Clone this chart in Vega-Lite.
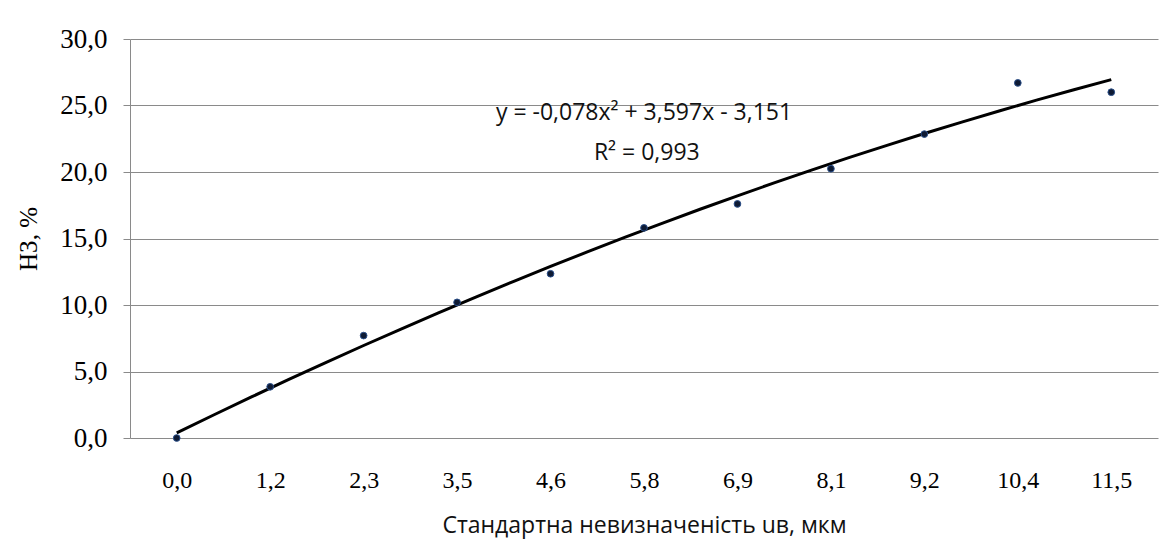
{
  "$schema": "https://vega.github.io/schema/vega-lite/v6.json",
  "width": 1028,
  "height": 399,
  "padding": {"left": 130, "top": 39, "right": 11, "bottom": 103},
  "autosize": {"type": "none"},
  "background": "white",
  "config": {"view": {"stroke": null}},
  "data": {"values": [
    {"i": 1, "u": "0,0", "v": 0.0},
    {"i": 2, "u": "1,2", "v": 3.85},
    {"i": 3, "u": "2,3", "v": 7.7},
    {"i": 4, "u": "3,5", "v": 10.2},
    {"i": 5, "u": "4,6", "v": 12.35},
    {"i": 6, "u": "5,8", "v": 15.8},
    {"i": 7, "u": "6,9", "v": 17.6},
    {"i": 8, "u": "8,1", "v": 20.25},
    {"i": 9, "u": "9,2", "v": 22.85},
    {"i": 10, "u": "10,4", "v": 26.7},
    {"i": 11, "u": "11,5", "v": 26.0}
  ]},
  "layer": [
    {
      "mark": {"type": "line", "color": "black", "strokeWidth": 3},
      "transform": [{"regression": "v", "on": "i", "method": "poly", "order": 2, "extent": [1, 11]}],
      "encoding": {
        "x": {"field": "i", "type": "quantitative",
          "scale": {"domain": [0.5, 11.5], "nice": false, "zero": false},
          "axis": {
            "values": [1,2,3,4,5,6,7,8,9,10,11],
            "labelExpr": "['0,0','1,2','2,3','3,5','4,6','5,8','6,9','8,1','9,2','10,4','11,5'][datum.value-1]",
            "grid": false, "ticks": false, "domain": false,
            "labelFont": "Liberation Serif", "labelFontSize": 24, "labelColor": "black",
            "labelPadding": 30, "labelFlush": false,
            "title": "Стандартна невизначеність uв, мкм",
            "titleFont": "Open Sans", "titleFontSize": 23, "titleFontWeight": "normal",
            "titleColor": "#111", "titlePadding": 22
          }
        },
        "y": {"field": "v", "type": "quantitative",
          "scale": {"domain": [0, 30], "nice": false},
          "axis": {
            "values": [0,5,10,15,20,25,30],
            "labelExpr": "replace(format(datum.value,'.1f'),'.',',')",
            "grid": true, "gridColor": "#8a8a8a", "gridWidth": 1,
            "domain": true, "domainColor": "#8a8a8a",
            "ticks": true, "tickColor": "#8a8a8a", "tickSize": 7,
            "labelFont": "Liberation Serif", "labelFontSize": 27, "labelColor": "black",
            "labelPadding": 16,
            "title": "НЗ, %", "titleFont": "Liberation Serif", "titleFontSize": 25,
            "titleFontWeight": "normal", "titleColor": "black", "titlePadding": 18
          }
        }
      }
    },
    {
      "mark": {"type": "point", "filled": true, "fill": "#0e1a33", "stroke": "#2a4f8a", "strokeWidth": 1, "size": 45, "opacity": 1},
      "encoding": {
        "x": {"field": "i", "type": "quantitative"},
        "y": {"field": "v", "type": "quantitative"}
      }
    },
    {
      "data": {"values": [
        {"tx": 6.0, "ty": 24.4, "t": "y = -0,078x² + 3,597x - 3,151"},
        {"tx": 6.03, "ty": 21.4, "t": "R² = 0,993"}
      ]},
      "mark": {"type": "text", "font": "Open Sans", "fontSize": 23, "color": "#111", "align": "center", "baseline": "middle"},
      "encoding": {
        "x": {"field": "tx", "type": "quantitative"},
        "y": {"field": "ty", "type": "quantitative"},
        "text": {"field": "t"}
      }
    }
  ]
}
